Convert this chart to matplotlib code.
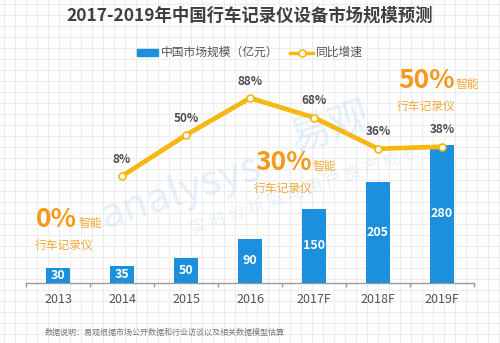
import matplotlib
matplotlib.use("Agg")
import matplotlib.pyplot as plt
import numpy as np
from matplotlib.patches import Rectangle
from matplotlib.lines import Line2D

plt.rcParams['font.family'] = ['Noto Sans CJK SC', 'DejaVu Sans']

# ---- data ----
years = ["2013", "2014", "2015", "2016", "2017F", "2018F", "2019F"]
market_size = [30, 35, 50, 90, 150, 205, 280]          # 亿元
growth = [None, 8, 50, 88, 68, 36, 38]                  # %
smart_share = ["0%", "30%", "50%"]

title = "2017-2019年中国行车记录仪设备市场规模预测"
legend_bar = "中国市场规模（亿元）"
legend_line = "同比增速"
note = "数据说明：易观根据市场公开数据和行业访谈以及相关数据模型估算"

BLUE = "#1C8FDD"
GOLD = "#F6B810"
ORANGE = "#F39A1C"
ORANGE_LIGHT = "#F5A93A"
GRAY_TXT = "#555555"

W, H = 500, 343
fig = plt.figure(figsize=(W / 100, H / 100), dpi=100)
fig.patch.set_facecolor("white")


def fx(x):
    return x / W


def fy(y):
    return 1 - y / H


# ---- squared-paper background ----
bg = fig.add_axes([0, 0, 1, 1], zorder=0)
bg.set_xlim(0, W)
bg.set_ylim(H, 0)
bg.axis("off")
for gx in np.arange(4, W, 11):
    bg.axvline(gx, color="#ededed", lw=0.8)
for gy in np.arange(4, H, 11):
    bg.axhline(gy, color="#ededed", lw=0.8)

# faint watermark
WM = "#a9cdea"
bg.text(180, 192, "analysys", fontsize=30, color=WM, alpha=0.28,
        rotation=18, ha="center", va="center")
bg.text(330, 128, "易观", fontsize=30, color=WM, alpha=0.28,
        rotation=18, ha="center", va="center")
bg.text(305, 190, "实 时 分 析 驱 动 用 户 资 产 成 长", fontsize=12, color=WM,
        alpha=0.25, rotation=19, ha="center", va="center")

# ---- main axes ----
left, right, bottom, top = 26, 474, 283, 40
ax = fig.add_axes([fx(left), fy(bottom), (right - left) / W, (bottom - top) / H], zorder=2)
ax.patch.set_alpha(0)
x = np.arange(len(years))
ax.set_xlim(-0.5, len(years) - 0.5)
ax.set_ylim(0, (bottom - top) / 0.494)

bars = ax.bar(x, market_size, width=0.39, color=BLUE, zorder=3)
for xi, v in zip(x, market_size):
    ax.text(xi, v / 2, str(v), ha="center", va="center", color="white",
            fontsize=9, fontweight="bold", zorder=4)

for s in ["top", "left", "right"]:
    ax.spines[s].set_visible(False)
ax.spines["bottom"].set_color("#9a9a9a")
ax.spines["bottom"].set_linewidth(1.0)
ax.set_yticks([])
ax.set_xticks(x)
ax.set_xticklabels(years, color=GRAY_TXT, fontsize=9)
ax.tick_params(axis="x", which="major", length=0, pad=7)
ax.set_xticks(np.arange(-0.5, len(years), 1.0), minor=True)
ax.tick_params(axis="x", which="minor", length=3, color="#9a9a9a", width=1.0)

# ---- growth line on secondary axis ----
ax2 = ax.twinx()
ax2.set_ylim(-101.7, 147.5)
ax2.axis("off")
gx_ = [xi for xi, g in zip(x, growth) if g is not None]
gy_ = [g for g in growth if g is not None]
ax2.plot(gx_, gy_, color=GOLD, lw=3.4, solid_capstyle="round", zorder=5)
ax2.plot(gx_, gy_, ls="none", marker="o", ms=5, mfc="white", mec=GOLD,
         mew=1.2, zorder=6)
for xi, g in zip(gx_, gy_):
    ax2.annotate(f"{g}%", (xi, g), xytext=(0, 17), textcoords="offset pixels",
                 ha="center", va="center", color="#4d4d4d", fontsize=8.5,
                 fontweight="bold")

# ---- smart dash-cam share callouts ----
callouts = [(36, 227), (255, 170), (398, 88)]
for share, (cx, cy) in zip(smart_share, callouts):
    t = fig.text(fx(cx), fy(cy), share, color=ORANGE, fontsize=19,
                 fontweight="bold", ha="left", va="baseline", zorder=7)
    fig.canvas.draw()
    bb = t.get_window_extent()
    fig.text(bb.x1 / fig.dpi / fig.get_figwidth() + 0.002, fy(cy), "智能",
             color=ORANGE_LIGHT, fontsize=8.5, ha="left", va="baseline")
    fig.text(fx(cx - 1), fy(cy + 18), "行车记录仪", color=ORANGE_LIGHT,
             fontsize=8.5, ha="left", va="center")

# ---- title, legend, note ----
fig.text(0.5, fy(16), title, ha="center", va="center", fontsize=12.5,
         fontweight="bold", color="#3f3f3f")

fig.patches.append(Rectangle((fx(137), fy(56)), 21 / W, 7 / H,
                             transform=fig.transFigure, color=BLUE))
fig.text(fx(161), fy(52.5), legend_bar, ha="left", va="center",
         fontsize=8.5, color=GRAY_TXT)
fig.lines.append(Line2D([fx(290), fx(313)], [fy(52.5), fy(52.5)],
                        transform=fig.transFigure, color=GOLD, lw=2.5))
fig.lines.append(Line2D([fx(301.5)], [fy(52.5)], transform=fig.transFigure,
                        marker="o", ms=5, mfc="white", mec=GOLD, mew=1.2))
fig.text(fx(316), fy(52.5), legend_line, ha="left", va="center",
         fontsize=8.5, color=GRAY_TXT)

fig.text(fx(45), fy(332), note, ha="left", va="center", fontsize=5.8,
         color="#777777")

fig.savefig("out.png", dpi=100)
